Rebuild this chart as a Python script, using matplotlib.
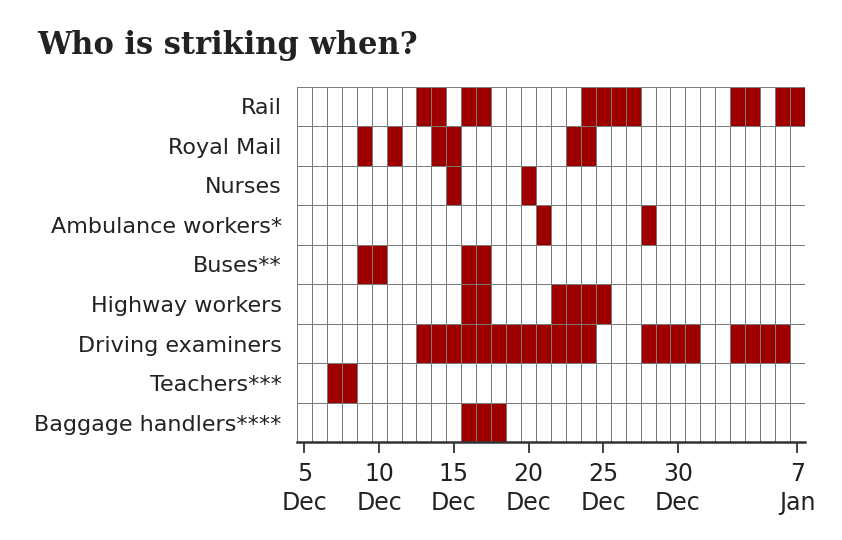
import numpy as np
import pandas as pd
import matplotlib
matplotlib.use("Agg")
import matplotlib.pyplot as plt
from matplotlib.colors import ListedColormap

# Strike calendar, 5 Dec 2022 - 7 Jan 2023
groups = ["Rail", "Royal Mail", "Nurses", "Ambulance workers*", "Buses**",
          "Highway workers", "Driving examiners", "Teachers***", "Baggage handlers****"]

rail = ["2022-12-13", "2022-12-14", "2022-12-16", "2022-12-17", "2022-12-24", "2022-12-25",
        "2022-12-26", "2022-12-27", "2023-01-03", "2023-01-04", "2023-01-06", "2023-01-07"]
royal_mail = ["2022-12-09", "2022-12-11", "2022-12-14", "2022-12-15", "2022-12-23", "2022-12-24"]
nurses = ["2022-12-15", "2022-12-20"]
ambulance = ["2022-12-21", "2022-12-28"]
buses = ["2022-12-09", "2022-12-10", "2022-12-16", "2022-12-17"]
highways = ["2022-12-16", "2022-12-17", "2022-12-22", "2022-12-23", "2022-12-24", "2022-12-25"]
driving = ["2022-12-13", "2022-12-14", "2022-12-15", "2022-12-16", "2022-12-17", "2022-12-18",
           "2022-12-19", "2022-12-20", "2022-12-21", "2022-12-22", "2022-12-23", "2022-12-24",
           "2022-12-28", "2022-12-29", "2022-12-30", "2022-12-31",
           "2023-01-03", "2023-01-04", "2023-01-05", "2023-01-06"]
teachers = ["2022-12-07", "2022-12-08"]
baggage = ["2022-12-16", "2022-12-17", "2022-12-18"]

strike_days = [rail, royal_mail, nurses, ambulance, buses, highways, driving, teachers, baggage]

tick_dates = ["2022-12-05", "2022-12-10", "2022-12-15", "2022-12-20",
              "2022-12-25", "2022-12-30", "2023-01-07"]
tick_labels = ["5\nDec", "10\nDec", "15\nDec", "20\nDec", "25\nDec", "30\nDec", "7\nJan"]

days = pd.date_range("2022-12-05", "2023-01-07", freq="D")

# build on/off matrix
grid = np.zeros((len(groups), len(days)))
for i, dates in enumerate(strike_days):
    for d in pd.to_datetime(dates):
        grid[i, days.get_loc(d)] = 1

fig = plt.figure(figsize=(8.42, 5.4), dpi=100)
ax = fig.add_axes([0.3527, 0.181, 0.6033, 0.6584])

ax.pcolormesh(np.arange(len(days) + 1) - 0.5, np.arange(len(groups) + 1) - 0.5, grid,
              cmap=ListedColormap(["white", "#9e0000"]), vmin=0, vmax=1,
              edgecolors="#7a7a7a", linewidth=0.55)

ax.set_xlim(-0.5, len(days) - 0.5)
ax.set_ylim(len(groups) - 0.5, -0.5)

ax.set_yticks(np.arange(len(groups)))
ax.set_yticklabels(groups, fontsize=16, color="#222222")
ax.tick_params(axis="y", length=0, pad=11)

tick_pos = [days.get_loc(pd.Timestamp(t)) for t in tick_dates]
ax.set_xticks(tick_pos)
ax.set_xticklabels(tick_labels, fontsize=17, color="#222222", linespacing=1.3)
ax.tick_params(axis="x", length=8, width=1.3, color="#333333", pad=6)

for s in ["top", "right", "left"]:
    ax.spines[s].set_visible(False)
ax.spines["bottom"].set_color("#333333")
ax.spines["bottom"].set_linewidth(1.8)

fig.text(0.044, 0.915, "Who is striking when?", fontsize=22, fontweight="bold",
         family="DejaVu Serif", color="#222222", va="center", ha="left")

fig.savefig("out.png", dpi=100)
